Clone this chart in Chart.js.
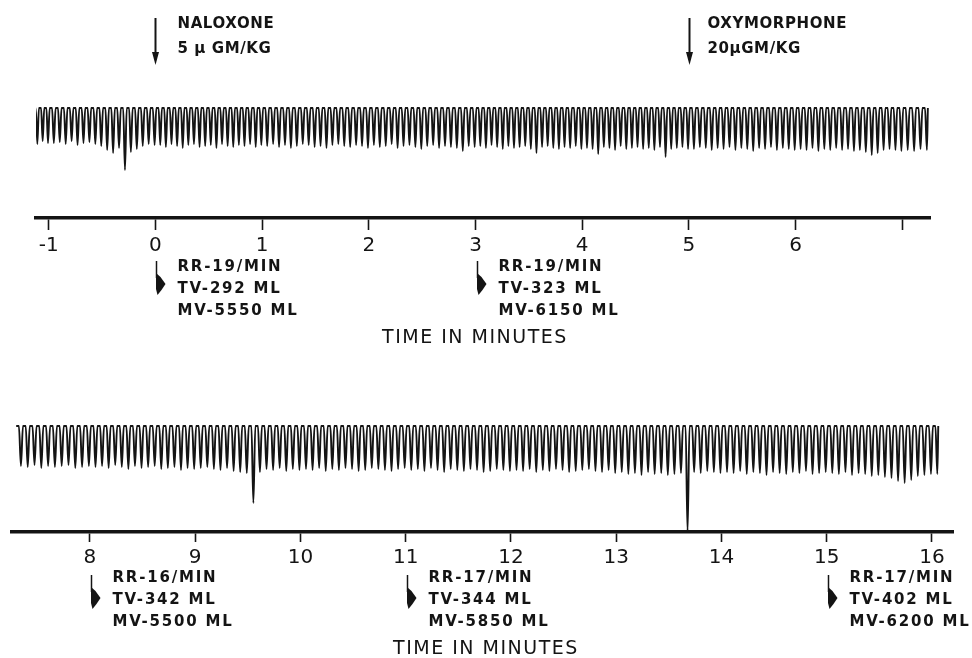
<!DOCTYPE html>
<html>
<head>
<meta charset="utf-8">
<script src="https://cdn.jsdelivr.net/npm/chart.js@4.4.1/dist/chart.umd.min.js"></script>
<style>
  html, body { margin: 0; padding: 0; background: #fff; }
  #wrap { position: relative; width: 972px; height: 658px; }
  canvas { position: absolute; left: 0; }
</style>
</head>
<body>
<div id="wrap">
  <canvas id="topChart" width="972" height="360" style="top:0"></canvas>
  <canvas id="bottomChart" width="972" height="298" style="top:360px"></canvas>
</div>
<script>
// pen trough of each breath (top of breath = 0), grouped by minute
const topBounds = [-1.2, -1, 0, 1, 2, 3, 4, 5, 6, 7, 7.24];
const topTroughs = [
    [-34, -36, -33, -35],
    [-35, -34, -36, -33, -37, -35, -34, -36, -38, -42, -45, -40, -62, -44, -41, -38, -36, -37],
    [-37, -39, -36, -38, -40, -37, -36, -39, -38, -37, -40, -36, -38, -39, -37, -38, -36, -39, -37],
    [-38, -36, -39, -37, -40, -38, -36, -37, -39, -38, -40, -37, -36, -38, -39, -37, -38, -40],
    [-37, -39, -38, -36, -40, -38, -37, -39, -41, -38, -37, -40, -38, -39, -40, -43, -38, -39],
    [-38, -40, -37, -39, -41, -38, -40, -39, -38, -41, -45, -39, -38, -40, -41, -39, -40, -38, -41],
    [-40, -41, -46, -39, -40, -42, -38, -41, -40, -39, -41, -40, -42, -39, -49, -41, -40, -39, -41],
    [-41, -39, -40, -42, -40, -41, -39, -42, -40, -41, -43, -40, -41, -39, -42, -40, -41, -42],
    [-41, -42, -40, -43, -41, -42, -40, -42, -41, -43, -42, -44, -47, -45, -42, -41, -42, -43],
    [-42, -43, -41, -42]
];

const bottomBounds = [7.29, 8, 9, 10, 11, 12, 13, 14, 15, 16, 16.06];
const bottomTroughs = [
    [-40, -41, -39, -42, -40, -41, -40, -39, -42, -41, -40],
    [-41, -40, -42, -39, -41, -43, -40, -42, -41, -40, -43, -42, -41, -44, -42, -43],
    [-42, -41, -43, -44, -42, -45, -46, -47, -77, -46, -43, -44, -42, -45, -43, -44],
    [-43, -44, -42, -45, -43, -44, -42, -43, -45, -44, -42, -43, -44, -45, -43, -42],
    [-44, -43, -45, -42, -44, -46, -43, -44, -45, -43, -44, -46, -45, -43, -44, -45],
    [-44, -45, -43, -46, -44, -45, -43, -44, -46, -45, -44, -43, -45, -46, -44, -47],
    [-46, -48, -47, -49, -46, -48, -47, -49, -48, -47, -106, -46, -47, -45, -46, -47],
    [-46, -47, -45, -48, -46, -47, -49, -46, -47, -48, -46, -47, -45, -48, -47, -46],
    [-47, -48, -46, -49, -47, -48, -50, -49, -51, -52, -55, -57, -54, -50, -49, -48],
    [-48]
];

const topTicks = [-1, 0, 1, 2, 3, 4, 5, 6, 7];
const bottomTicks = [8, 9, 10, 11, 12, 13, 14, 15, 16];

const drugTimes = [0, 5];
const drugNames = ['NALOXONE', 'OXYMORPHONE'];
const drugDoses = ['5 \u00b5 GM/KG', '20\u00b5GM/KG'];

const sampleTimes = [0, 3, 8, 11, 15];
const sampleRR = [19, 19, 16, 17, 17];
const sampleTV = [292, 323, 342, 344, 402];
const sampleMV = [5550, 6150, 5500, 5850, 6200];

const INK = '#141414';
const FONT = '"DejaVu Sans", sans-serif';

function tracePoints(bounds, troughs) {
    const pts = [];
    troughs.forEach((seg, k) => {
        const p = (bounds[k + 1] - bounds[k]) / seg.length;
        seg.forEach((d, i) => {
            const s = bounds[k] + i * p;
            pts.push({x: s + 0.15 * p, y: 0}, {x: s + 0.55 * p, y: 0}, {x: s + 0.85 * p, y: d});
        });
    });
    pts.push({x: bounds[bounds.length - 1], y: 0});
    return pts;
}

function annotations(cfg) {
    return {
        id: 'annotations',
        afterDraw(chart) {
            const ctx = chart.ctx;
            const xs = chart.scales.x;
            const axisY = chart.chartArea.bottom;
            ctx.save();
            ctx.fillStyle = INK;
            ctx.strokeStyle = INK;
            ctx.textBaseline = 'middle';
            ctx.textAlign = 'left';

            // drug injections
            cfg.drugs.forEach((i) => {
                const x = Math.round(xs.getPixelForValue(drugTimes[i])) + 0.5;
                ctx.lineWidth = 2;
                ctx.beginPath();
                ctx.moveTo(x, 18);
                ctx.lineTo(x, 54);
                ctx.stroke();
                ctx.beginPath();
                ctx.moveTo(x - 3.5, 52);
                ctx.lineTo(x + 3.5, 52);
                ctx.lineTo(x, 65);
                ctx.closePath();
                ctx.fill();
                ctx.font = 'bold 15px ' + FONT;
                ctx.letterSpacing = '0.6px';
                ctx.fillText(drugNames[i], x + cfg.drugOffset[i], 24);
                ctx.fillText(drugDoses[i], x + cfg.drugOffset[i], 49);
            });

            // ventilation measurements
            cfg.samples.forEach((i) => {
                const x = Math.round(xs.getPixelForValue(sampleTimes[i])) + 1.5;
                ctx.lineWidth = 1.5;
                ctx.beginPath();
                ctx.moveTo(x, axisY + 43);
                ctx.lineTo(x, axisY + 60);
                ctx.stroke();
                const y0 = axisY + 55;
                ctx.beginPath();
                ctx.moveTo(x - 0.5, y0);
                ctx.lineTo(x + 4, y0 + 4);
                ctx.lineTo(x + 9, y0 + 11);
                ctx.lineTo(x + 5, y0 + 17);
                ctx.lineTo(x + 1, y0 + 22);
                ctx.lineTo(x - 0.5, y0 + 16);
                ctx.closePath();
                ctx.fill();
                ctx.font = 'bold 15px ' + FONT;
                ctx.letterSpacing = '1.8px';
                const tx = x + 21;
                ctx.fillText('RR-' + sampleRR[i] + '/MIN', tx, axisY + cfg.rows[0]);
                ctx.fillText('TV-' + sampleTV[i] + ' ML', tx, axisY + cfg.rows[1]);
                ctx.fillText('MV-' + sampleMV[i] + ' ML', tx, axisY + cfg.rows[2]);
            });

            // axis title
            ctx.font = '19px ' + FONT;
            ctx.letterSpacing = '1.5px';
            ctx.textAlign = 'center';
            ctx.fillText('TIME IN MINUTES', cfg.titleX, cfg.titleY);
            ctx.restore();
        }
    };
}

function makeChart(id, cfg) {
    const canvas = document.getElementById(id);
    return new Chart(canvas, {
        type: 'line',
        data: {
            datasets: [{
                data: tracePoints(cfg.bounds, cfg.troughs),
                borderColor: INK,
                borderWidth: 1.9,
                pointRadius: 0,
                cubicInterpolationMode: 'monotone',
                fill: false
            }]
        },
        options: {
            responsive: false,
            animation: false,
            devicePixelRatio: 1,
            layout: {padding: cfg.padding},
            plugins: {legend: {display: false}, tooltip: {enabled: false}},
            scales: {
                x: {
                    type: 'linear',
                    min: cfg.range[0],
                    max: cfg.range[1],
                    afterBuildTicks(scale) {
                        scale.ticks = cfg.ticks.map((v) => ({value: v}));
                    },
                    afterFit(scale) {
                        scale.height = cfg.axisHeight;
                    },
                    grid: {
                        drawOnChartArea: false,
                        drawTicks: true,
                        tickLength: cfg.tickLength,
                        tickWidth: 1.6,
                        tickColor: INK
                    },
                    border: {display: true, width: 3.5, color: INK},
                    ticks: {
                        autoSkip: false,
                        maxRotation: 0,
                        padding: 4,
                        color: INK,
                        font: {family: FONT, size: 20},
                        callback: (v) => (cfg.hidden.includes(v) ? '' : String(v))
                    }
                },
                y: {display: false, min: cfg.yRange[0], max: cfg.yRange[1]}
            }
        },
        plugins: [annotations(cfg.annot)]
    });
}

makeChart('topChart', {
    bounds: topBounds,
    troughs: topTroughs,
    ticks: topTicks,
    hidden: [7],
    range: [-1.12, 7.26],
    yRange: [-110, 18],
    padding: {left: 36, right: 42, top: 90, bottom: 0},
    axisHeight: 142,
    tickLength: 12,
    annot: {drugs: [0, 1], drugOffset: [22, 18], samples: [0, 1], rows: [49, 71, 93], titleX: 475, titleY: 338}
});

makeChart('bottomChart', {
    bounds: bottomBounds,
    troughs: bottomTroughs,
    ticks: bottomTicks,
    hidden: [],
    range: [7.26, 16.2],
    yRange: [-106, 18],
    padding: {left: 12, right: 19, top: 48, bottom: 0},
    axisHeight: 126,
    tickLength: 10,
    annot: {drugs: [], drugOffset: [], samples: [2, 3, 4], rows: [46, 68, 90], titleX: 486, titleY: 289}
});
</script>
</body>
</html>
